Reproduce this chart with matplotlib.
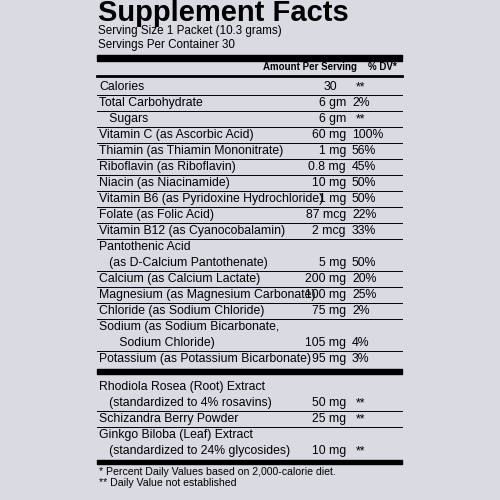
import matplotlib
matplotlib.use("Agg")
import matplotlib.pyplot as plt

names = [["Calories"], ["Total Carbohydrate"], ["   Sugars"], ["Vitamin C (as Ascorbic Acid)"],
         ["Thiamin (as Thiamin Mononitrate)"], ["Riboflavin (as Riboflavin)"], ["Niacin (as Niacinamide)"],
         ["Vitamin B6 (as Pyridoxine Hydrochloride)"], ["Folate (as Folic Acid)"],
         ["Vitamin B12 (as Cyanocobalamin)"], ["Pantothenic Acid", "   (as D-Calcium Pantothenate)"],
         ["Calcium (as Calcium Lactate)"], ["Magnesium (as Magnesium Carbonate)"],
         ["Chloride (as Sodium Chloride)"], ["Sodium (as Sodium Bicarbonate,", "      Sodium Chloride)"],
         ["Potassium (as Potassium Bicarbonate)"]]
amounts = ["30", "6 gm", "6 gm", "60 mg", "1 mg", "0.8 mg", "10 mg", "1 mg", "87 mcg", "2 mcg",
           "5 mg", "200 mg", "100 mg", "75 mg", "105 mg", "95 mg"]
dvs = ["**", "2%", "**", "100%", "56%", "45%", "50%", "50%", "22%", "33%", "50%", "20%", "25%",
       "2%", "4%", "3%"]
herbs = [["Rhodiola Rosea (Root) Extract", "   (standardized to 4% rosavins)"],
         ["Schizandra Berry Powder"],
         ["Ginkgo Biloba (Leaf) Extract", "   (standardized to 24% glycosides)"]]
herb_amounts = ["50 mg", "25 mg", "10 mg"]
herb_dvs = ["**", "**", "**"]

fig = plt.figure(figsize=(5, 5), dpi=100)
fig.patch.set_facecolor("#dadae2")
ax = fig.add_axes([0, 0, 1, 1])
ax.set_xlim(0, 500); ax.set_ylim(500, 0); ax.axis("off")
F = "Liberation Sans"
L, R = 97, 402
FS = 8.8
ax.text(L + 1, 13, "Supplement Facts", fontsize=21, fontweight="bold", family=F, va="center")
ax.text(L + 1, 31, "Serving Size 1 Packet (10.3 grams)", fontsize=8.4, family=F, va="center")
ax.text(L + 1, 45, "Servings Per Container 30", fontsize=8.4, family=F, va="center")
ax.fill_between([L, R], 55, 61, color="black")
ax.text(357, 67, "Amount Per Serving", fontsize=7, fontweight="bold", family=F, va="center", ha="right")
ax.text(368, 67, "% DV*", fontsize=7, fontweight="bold", family=F, va="center")
ax.plot([L, R], [76, 76], color="black", lw=2)

AMT_X, DV_X = 346, 352
step = 16
def draw_rows(nm, am, dv, y):
    for i, (n, a, d) in enumerate(zip(nm, am, dv)):
        top = y - step / 2
        if i > 0:
            ax.plot([L, R], [top, top], color="black", lw=0.7)
        for j, line in enumerate(n):
            ax.text(L + 2, y + j * step, line, fontsize=FS, family=F, va="center")
        ly = y + (len(n) - 1) * step
        if a == "30":
            ax.text(330, ly, a, fontsize=FS, family=F, va="center", ha="center")
        else:
            ax.text(AMT_X, ly, a, fontsize=FS, family=F, va="center", ha="right")
        ax.text(DV_X + (4 if d == "**" else 0), ly, d, fontsize=FS, family=F, va="center")
        y += len(n) * step
    return y

y = draw_rows(names, amounts, dvs, 87)
ax.fill_between([L, R], y - step / 2 + 2, y - step / 2 + 7, color="black")
y = draw_rows(herbs, herb_amounts, herb_dvs, y + 12)
ax.fill_between([L, R], y - step / 2 + 1, y - step / 2 + 5, color="black")
ax.text(L + 2, y + 5, "* Percent Daily Values based on 2,000-calorie diet.", fontsize=7.6, family=F, va="center")
ax.text(L + 2, y + 16, "** Daily Value not established", fontsize=7.6, family=F, va="center")
fig.savefig("out.png", dpi=100, facecolor=fig.get_facecolor())
